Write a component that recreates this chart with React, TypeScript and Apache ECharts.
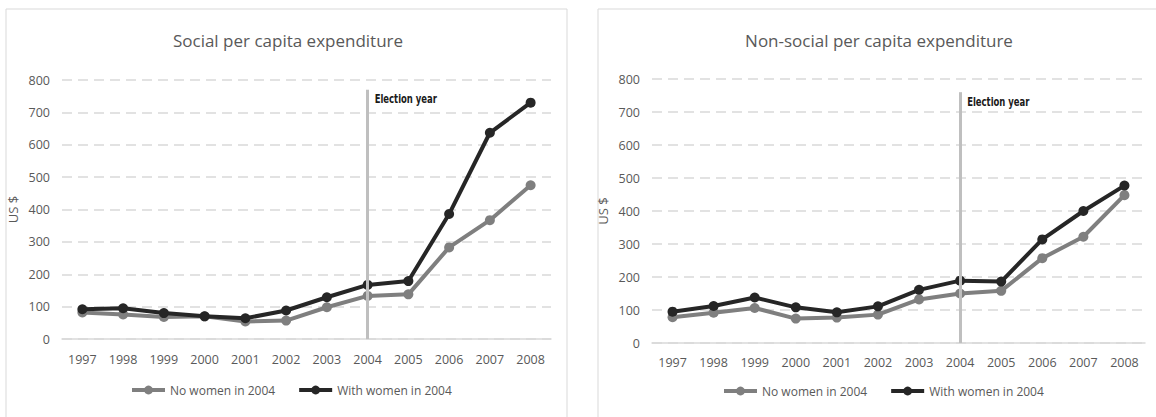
import React, { useEffect, useRef } from 'react';
import * as echarts from 'echarts';

const years = ['1997', '1998', '1999', '2000', '2001', '2002', '2003', '2004', '2005', '2006', '2007', '2008'];
const socialNoWomen = [82, 76, 68, 70, 54, 57, 98, 133, 138, 283, 367, 475];
const socialWithWomen = [92, 95, 80, 70, 64, 88, 129, 167, 179, 386, 637, 730];
const nonSocialNoWomen = [78, 92, 106, 74, 77, 86, 132, 150, 158, 257, 322, 448];
const nonSocialWithWomen = [95, 112, 138, 108, 93, 111, 161, 189, 186, 314, 400, 477];
const titles = ['Social per capita expenditure', 'Non-social per capita expenditure'];
const seriesNames = ['No women in 2004', 'With women in 2004'];
const electionYear = '2004';
const electionLabel = 'Election year';
const electionLineTop = [770, 760];
const yMin = 0;
const yMax = 800;
const yStep = 100;

export default function App() {
  const ref = useRef<HTMLDivElement>(null);
  useEffect(() => {
    const chart = echarts.init(ref.current!, null, { renderer: 'svg' });
    const font = "'Open Sans', 'Noto Sans', sans-serif";
    const narrow = "'Liberation Sans Narrow', 'DejaVu Sans Condensed', sans-serif";
    const textColor = '#595959';
    const gray = '#7f7f7f';
    const black = '#262626';

    const mkX = (gridIndex: number, margin: number) => ({
      type: 'category',
      gridIndex,
      data: years,
      boundaryGap: true,
      axisLine: { show: true, lineStyle: { color: '#d9d9d9', width: 1.5 } },
      axisTick: { show: false },
      axisLabel: { color: textColor, fontSize: 12.5, fontFamily: font, margin, interval: 0 },
      splitLine: { show: false },
    });
    const mkY = (gridIndex: number) => ({
      type: 'value',
      gridIndex,
      min: yMin,
      max: yMax,
      interval: yStep,
      name: 'US $',
      nameLocation: 'middle',
      nameGap: 43,
      nameTextStyle: { color: textColor, fontSize: 13, fontFamily: font },
      axisLine: { show: false },
      axisTick: { show: false },
      axisLabel: { color: textColor, fontSize: 12.5, fontFamily: font, margin: 12 },
      splitLine: { lineStyle: { color: '#d9d9d9', width: 1.5, type: [10, 6] } },
    });
    const mkLine = (name: string, data: number[], color: string, idx: number, z: number) => ({
      type: 'line',
      name,
      data,
      xAxisIndex: idx,
      yAxisIndex: idx,
      color,
      lineStyle: { color, width: 4 },
      itemStyle: { color },
      symbol: 'circle',
      symbolSize: 10,
      showSymbol: true,
      z,
    });
    const mkElection = (idx: number, top: number) => ({
      type: 'line',
      name: electionLabel,
      data: [],
      xAxisIndex: idx,
      yAxisIndex: idx,
      z: 5,
      markLine: {
        silent: true,
        symbol: 'none',
        lineStyle: { color: '#bfbfbf', width: 3, type: 'solid' },
        label: { show: false },
        data: [[{ coord: [electionYear, yMin] }, { coord: [electionYear, top] }]],
      },
    });
    const mkLegend = (left: number, top: number) => ({
      data: seriesNames,
      left,
      top,
      padding: 0,
      itemWidth: 33,
      itemHeight: 11,
      itemGap: 22,
      selectedMode: false,
      lineStyle: { width: 4 },
      textStyle: { color: textColor, fontSize: 12, fontFamily: font },
    });

    const baseGraphic: any[] = [
      { type: 'rect', shape: { x: 6, y: 9, width: 561, height: 430 }, style: { fill: 'none', stroke: '#d9d9d9', lineWidth: 1 }, silent: true },
      { type: 'rect', shape: { x: 598, y: 9, width: 580, height: 430 }, style: { fill: 'none', stroke: '#d9d9d9', lineWidth: 1 }, silent: true },
      { type: 'text', x: 288, y: 40, style: { text: titles[0], fill: textColor, fontSize: 17, fontFamily: font, textAlign: 'center', textVerticalAlign: 'middle' }, silent: true },
      { type: 'text', x: 879, y: 40, style: { text: titles[1], fill: textColor, fontSize: 17, fontFamily: font, textAlign: 'center', textVerticalAlign: 'middle' }, silent: true },
    ];

    chart.setOption({
      animation: false,
      backgroundColor: '#ffffff',
      grid: [
        { left: 62, right: 605, top: 80, bottom: 78 },
        { left: 652, right: 11, top: 79, bottom: 74 },
      ],
      xAxis: [mkX(0, 14), mkX(1, 13)],
      yAxis: [mkY(0), mkY(1)],
      legend: [mkLegend(130, 384), mkLegend(722, 385)],
      graphic: baseGraphic,
      series: [
        mkLine(seriesNames[0], socialNoWomen, gray, 0, 2),
        mkLine(seriesNames[1], socialWithWomen, black, 0, 3),
        mkElection(0, electionLineTop[0]),
        mkLine(seriesNames[0], nonSocialNoWomen, gray, 1, 2),
        mkLine(seriesNames[1], nonSocialWithWomen, black, 1, 3),
        mkElection(1, electionLineTop[1]),
      ],
    });

    // place "Election year" labels next to the top of each election line, using the chart's own scales
    const labels = [0, 1].map((i) => {
      const p = chart.convertToPixel({ xAxisIndex: i, yAxisIndex: i }, [electionYear, electionLineTop[i]]) as number[];
      return {
        type: 'text',
        x: p[0] + 7,
        y: p[1] + 9,
        scaleX: 0.82,
        silent: true,
        style: {
          text: electionLabel,
          fill: '#1a1a1a',
          fontSize: 11.5,
          fontWeight: 'bold',
          fontFamily: narrow,
          textAlign: 'left',
          textVerticalAlign: 'middle',
        },
      };
    });
    chart.setOption({ graphic: [...baseGraphic, ...labels] });

    return () => chart.dispose();
  }, []);
  return <div ref={ref} style={{ position: 'absolute', left: 0, top: 0, width: 1156, height: 417 }} />;
}
